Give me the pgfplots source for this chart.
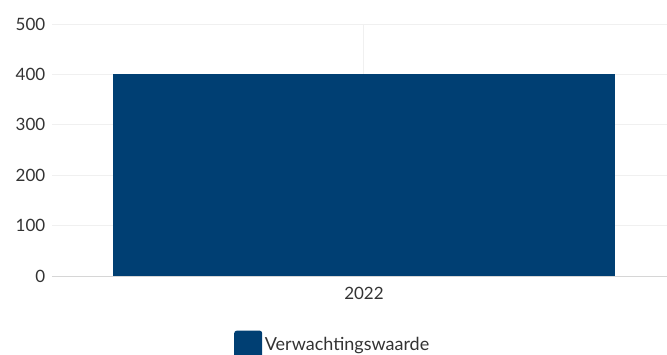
\documentclass[border=0pt]{standalone}
\usepackage{pgfplots}
\pgfplotsset{compat=1.18}
\usepackage{fontspec}
\setmainfont{Lato}
\definecolor{barblue}{HTML}{003F73}
\definecolor{gridc}{HTML}{F0F0F0}
\definecolor{axisc}{HTML}{D6D6D6}
\definecolor{txt}{HTML}{333333}
\begin{document}
\begin{tikzpicture}[x=1pt,y=1pt]
\begin{axis}[
  name=ax,
  scale only axis,
  width=461.25pt, height=189pt,
  at={(0,0)}, anchor=south west,
  xmin=-0.5, xmax=0.4856,
  ymin=0, ymax=500,
  ytick={0,100,200,300,400,500},
  xtick={0}, xticklabels={2022},
  ymajorgrids, xmajorgrids,
  grid style={gridc, line width=0.75pt},
  axis line style={draw=none},
  major tick length=0pt,
  tick style={draw=none},
  /pgf/number format/assume math mode=true,
  ticklabel style={font=\fontsize{12.75}{14}\selectfont, text=txt},
  yticklabel style={xshift=-1.5pt},
  xticklabel style={yshift=-5pt},
  ybar, bar width=0.8045,
  legend style={at={(0.457,-0.205)}, anchor=north, draw=none, font=\fontsize{13.5}{15}\selectfont, text=txt,
     legend cell align=left},
  legend image code/.code={\fill[barblue, rounded corners=2pt] (-2pt,-10pt) rectangle (19pt,11pt);},
]
\addplot[fill=barblue, draw=none] coordinates {(0,400)};
\addlegendentry{Verwachtingswaarde}
\draw[axisc, line width=0.75pt] (axis cs:-0.5,0) -- (axis cs:0.4856,0);
\end{axis}
\pgfresetboundingbox
\path (-39pt,-58.5pt) rectangle (461.25pt,207pt);
\end{tikzpicture}
\end{document}
